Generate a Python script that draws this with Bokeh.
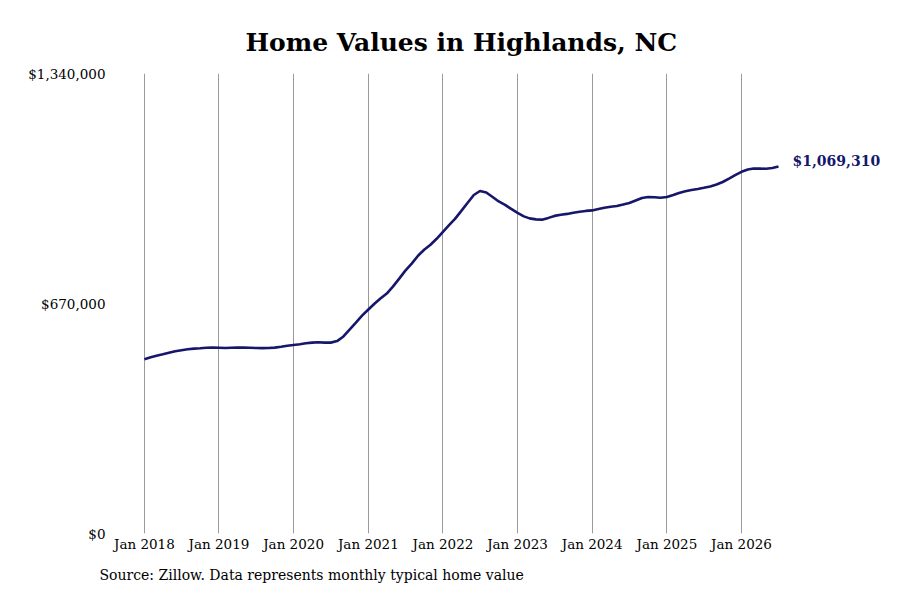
from datetime import datetime

from bokeh.plotting import figure
from bokeh.models import (Range1d, FixedTicker, NumeralTickFormatter,
                          DatetimeTickFormatter, Title, ColumnDataSource)
from bokeh.core.properties import value
from bokeh.embed import file_html
from bokeh.resources import INLINE

# Monthly typical home value, Jan 2018 .. Jul 2026
start_year = 2018
home_values = [
    507600, 513400, 517700, 522100, 526400, 530800, 533700, 536600, 538600, 539500, 540900, 541500,
    540900, 540300, 540900, 541500, 541500, 540900, 540300, 540100, 540300, 541500, 543800, 546700,
    549100, 551100, 554000, 556000, 556900, 556000, 556000, 560500, 574000, 594000, 614500, 634500,
    652600, 670000, 684500, 699000, 719300, 742500, 765700, 786000, 809200, 826600, 841100, 858500,
    878800, 899100, 916500, 939700, 962900, 986100, 997700, 993400, 980300, 967300, 957100, 945500,
    933900, 923800, 918000, 915100, 914200, 919400, 925200, 928700, 931000, 934500, 937400, 939700,
    941200, 945500, 949000, 951900, 954200, 958600, 962900, 970200, 977400, 980300, 979500, 978000,
    980300, 986100, 991900, 996900, 1000600, 1003500, 1007000, 1010800, 1016600, 1023900, 1034000, 1044200,
    1053700, 1060100, 1063000, 1063000, 1062400, 1064500, 1069310,
]
dates = [datetime(start_year + i // 12, i % 12 + 1, 1) for i in range(len(home_values))]
last_label = "$1,069,310"

y_ticks = [0, 670000, 1340000]
tick_years = list(range(2018, 2027))

title_text = "Home Values in Highlands, NC"
source_text = "Source: Zillow. Data represents monthly typical home value"

FONT = "DejaVu Serif"
LINE_COLOR = "#16166b"

p = figure(
    width=892, height=592,
    x_axis_type="datetime",
    x_range=Range1d(datetime(2017, 9, 6), datetime(2027, 11, 22)),
    y_range=Range1d(0, 1340000),
    output_backend="svg",
    toolbar_location=None,
    min_border_left=120, min_border_right=10,
    min_border_top=73, min_border_bottom=57,
)
p.outline_line_color = None
p.background_fill_color = "white"

# title
p.title = Title(text=title_text, align="left", offset=125)
p.title.text_font = FONT
p.title.text_font_size = "25px"
p.title.text_font_style = "bold"
p.title.text_color = "black"
p.title.standoff = 34

# source note
src = Title(text=source_text, align="left", offset=-21)
src.text_font = FONT
src.text_font_size = "14px"
src.text_font_style = "normal"
src.text_color = "black"
src.standoff = 20
p.add_layout(src, "below")

# axes
tick_ms = [datetime(y, 1, 1).timestamp() * 1000 for y in tick_years]
p.xaxis.ticker = FixedTicker(ticks=tick_ms)
p.xaxis.formatter = DatetimeTickFormatter(years="Jan %Y", months="%b %Y", days="%b %Y")
p.yaxis.ticker = FixedTicker(ticks=y_ticks)
p.yaxis.formatter = NumeralTickFormatter(format="$0,0")
for ax in (p.xaxis, p.yaxis):
    ax.axis_line_color = None
    ax.major_tick_line_color = None
    ax.minor_tick_line_color = None
    ax.major_label_text_font = FONT
    ax.major_label_text_font_size = "13.5px"
    ax.major_label_text_color = "black"
p.yaxis.major_label_standoff = 9
p.xaxis.major_label_standoff = -4

p.xgrid.ticker = FixedTicker(ticks=tick_ms)
p.xgrid.grid_line_color = "#9a9a9a"
p.xgrid.grid_line_width = 1
p.ygrid.grid_line_color = None

source = ColumnDataSource(data=dict(date=dates, value=home_values))
p.line("date", "value", source=source, line_color=LINE_COLOR, line_width=2.6)

p.text(x=[dates[-1]], y=[home_values[-1]], text=[last_label],
       text_font=value(FONT), text_font_size="14px", text_font_style="bold",
       text_color=LINE_COLOR, text_baseline="middle", x_offset=14, y_offset=-5)

open("out.html", "w").write(file_html(p, INLINE))
